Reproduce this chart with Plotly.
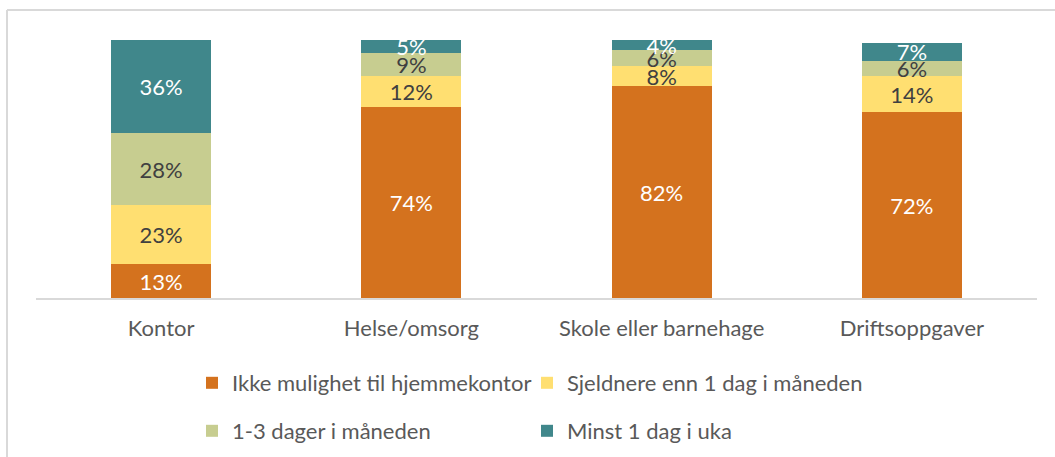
import plotly.graph_objects as go

categories = ["Kontor", "Helse/omsorg", "Skole eller barnehage", "Driftsoppgaver"]
series_names = [
    "Ikke mulighet til hjemmekontor",
    "Sjeldnere enn 1 dag i måneden",
    "1-3 dager i måneden",
    "Minst 1 dag i uka",
]
ikke = [13, 74, 82, 72]
sjeldnere = [23, 12, 8, 14]
dager_1_3 = [28, 9, 6, 6]
minst_uke = [36, 5, 4, 7]

values = [ikke, sjeldnere, dager_1_3, minst_uke]
colors = ["#D4721E", "#FFDF71", "#C7CD90", "#40878B"]
text_colors = ["#FFFFFF", "#404040", "#404040", "#FFFFFF"]
legend_ids = ["legend", "legend", "legend2", "legend2"]

FONT = "Lato"
FS = 22

fig = go.Figure()
for name, vals, col, tcol, lg in zip(series_names, values, colors, text_colors, legend_ids):
    fig.add_trace(go.Bar(
        x=categories, y=vals, name=name,
        marker=dict(color=col, line=dict(width=0)),
        text=[f"{v}%" for v in vals],
        textposition="inside", insidetextanchor="middle",
        constraintext="none",
        textfont=dict(family=FONT, size=FS, color=tcol),
        legend=lg, hoverinfo="skip",
    ))

W, H = 1055, 457
ml, mr, mt, mb = 36, 18, 40, 159
pw = W - ml - mr
ph = H - mt - mb

def px_x(x):
    return (x - ml) / pw

def px_y(y):
    return (H - mb - y) / ph

frame = dict(color="#D9D9D9", width=2)
shapes = [
    dict(type="line", xref="paper", yref="paper", x0=px_x(7), x1=px_x(7), y0=px_y(10), y1=px_y(460), line=frame),
    dict(type="line", xref="paper", yref="paper", x0=px_x(7), x1=px_x(1060), y0=px_y(10), y1=px_y(10), line=frame),
]

legend_common = dict(
    orientation="h", xanchor="left", yanchor="middle",
    xref="container", yref="container",
    font=dict(family=FONT, size=FS, color="#595959"),
    bgcolor="rgba(0,0,0,0)", entrywidth=290, itemwidth=30,
    traceorder="normal",
)

fig.update_layout(
    width=W, height=H,
    margin=dict(l=ml, r=mr, t=mt, b=mb, autoexpand=False),
    barmode="stack", bargap=0.6,
    plot_bgcolor="white", paper_bgcolor="white",
    font=dict(family=FONT, size=FS, color="#595959"),
    xaxis=dict(showgrid=False, showline=True, linecolor="#D9D9D9", linewidth=2,
               ticks="", tickfont=dict(family=FONT, size=FS, color="#595959"),
               ticklabelstandoff=10, automargin=False),
    yaxis=dict(range=[0, 100], visible=False, showgrid=False, automargin=False),
    legend=dict(x=192 / W, y=1 - 383 / H, **legend_common),
    legend2=dict(x=192 / W, y=1 - 431 / H, **legend_common),
    shapes=shapes,
    showlegend=True,
)

fig.write_html(
    "out.html",
    config={"displayModeBar": False},
    post_script="document.body.style.margin='0';document.body.style.overflow='hidden';",
)
